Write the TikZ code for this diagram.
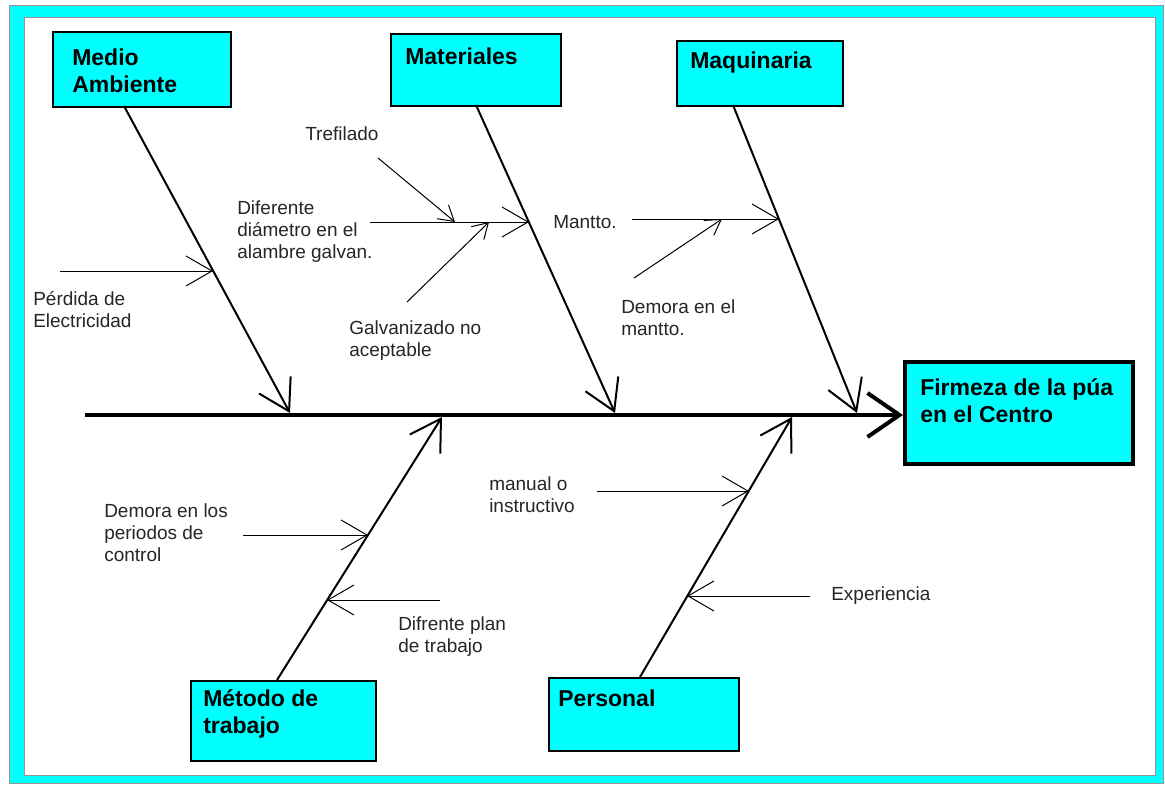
\documentclass[tikz,border=0pt]{standalone}
\usepackage{fontspec}
\setmainfont{Liberation Sans}
\usetikzlibrary{arrows.meta,calc}
\newlength\pxu \setlength\pxu{0.75pt}
\definecolor{boxcyan}{RGB}{0,255,255}
\definecolor{framegray}{RGB}{150,150,150}

\begin{document}
\begin{tikzpicture}[x=0.75pt,y=-0.75pt,
  category/.style={draw=black, line width=1.5pt, fill=boxcyan, anchor=north west, inner sep=0pt},
  effectbox/.style={category, line width=3pt},
  % labels are placed by the baseline of their last line
  boxlabel/.style={font=\fontsize{17.25}{20.25}\selectfont\bfseries, align=left, anchor=base west, inner sep=0pt},
  causelabel/.style={font=\fontsize{14.25}{16.5}\selectfont, align=left, anchor=base west, inner sep=0pt, text=black!85},
  spine/.style={line width=3pt, -{Straight Barb[length=24pt,width=33pt]}},
  bone/.style={line width=1.5pt, -{Straight Barb[length=22.5pt,width=27pt]}},
  cause/.style={line width=0.75pt, -{Straight Barb[length=19.5pt,width=22.5pt]}},
  subcause/.style={line width=0.75pt, -{Straight Barb[length=11.25pt,width=13.5pt]}},
]
% canvas
\useasboundingbox (0,0) rectangle (1165,786);
\fill[white] (0,0) rectangle (1165,786);

% cyan frame
\fill[boxcyan, even odd rule] (9,5) rectangle (1163,783) (24,17) rectangle (1155,775);
\draw[framegray, line width=0.75pt] (9,5) rectangle (1163,783);
\draw[framegray, line width=0.75pt] (24,17) rectangle (1155,775);

% category boxes
\node[category, minimum width=178\pxu, minimum height=75\pxu] (ma) at (52,31) {};
\node[category, minimum width=170\pxu, minimum height=72\pxu] (mat) at (390,33) {};
\node[category, minimum width=166\pxu, minimum height=65\pxu] (maq) at (676,40) {};
\node[category, minimum width=185\pxu, minimum height=80\pxu] (met) at (190,680) {};
\node[category, minimum width=190\pxu, minimum height=73\pxu] (per) at (548,677) {};
\node[effectbox, minimum width=228\pxu, minimum height=102\pxu] (ef) at (903,360) {};

\node[boxlabel] (maT) at (72,92) {Medio\\Ambiente};
\node[boxlabel] (matT) at (405,64) {Materiales};
\node[boxlabel] (maqT) at (690,68) {Maquinaria};
\node[boxlabel] (metT) at (203,733) {Método de\\trabajo};
\node[boxlabel] (perT) at (558,706) {Personal};
\node[boxlabel] (efT) at (920,422) {Firmeza de la púa\\en el Centro};

% spine
\coordinate (spL) at (85,415);
\draw[spine] (spL) -- (ef.west |- spL);

% bones
\coordinate (maA) at (124,106);  \coordinate (maB) at (290,413);
\coordinate (matA) at (476,105); \coordinate (matB) at (615,413);
\coordinate (maqA) at (733,105); \coordinate (maqB) at (857,413);
\coordinate (metA) at (277,680); \coordinate (metB) at (442,417);
\coordinate (perA) at (640,677); \coordinate (perB) at (792,417);
\draw[bone] (maA) -- (maB);
\draw[bone] (matA) -- (matB);
\draw[bone] (maqA) -- (maqB);
\draw[bone] (metA) -- (metB);
\draw[bone] (perA) -- (perB);

% causes: Medio Ambiente
\coordinate (c1a) at (60,271);  \coordinate (c1b) at (213,271);
\draw[cause] (c1a) -- (c1b);
\node[causelabel] (c1) at (33,327) {Pérdida de\\Electricidad};

% causes: Materiales
\coordinate (c2a) at (370,222); \coordinate (c2b) at (529,222);
\coordinate (c3a) at (378,158); \coordinate (c3b) at (455,222);
\coordinate (c4a) at (407,302); \coordinate (c4b) at (489,222);
\draw[cause] (c2a) -- (c2b);
\draw[subcause] (c3a) -- (c3b);
\draw[subcause] (c4a) -- (c4b);
\node[causelabel] (c2) at (237,258) {Diferente\\diámetro en el\\alambre galvan.};
\node[causelabel] (c3) at (305,140) {Trefilado};
\node[causelabel] (c4) at (349,356) {Galvanizado no\\aceptable};

% causes: Maquinaria
\coordinate (c5a) at (632,219); \coordinate (c5b) at (779,219);
\coordinate (c6a) at (634,278); \coordinate (c6b) at (722,219);
\draw[cause] (c5a) -- (c5b);
\draw[subcause] (c6a) -- (c6b);
\node[causelabel] (c5) at (553,228) {Mantto.};
\node[causelabel] (c6) at (621,335) {Demora en el\\mantto.};

% causes: Método de trabajo
\coordinate (c7a) at (243,535); \coordinate (c7b) at (368,535);
\coordinate (c8a) at (440,600); \coordinate (c8b) at (327,600);
\draw[cause] (c7a) -- (c7b);
\draw[cause] (c8a) -- (c8b);
\node[causelabel] (c7) at (104,561) {Demora en los\\periodos de\\control};
\node[causelabel] (c8) at (398,652) {Difrente plan\\de trabajo};

% causes: Personal
\coordinate (c9a) at (597,491); \coordinate (c9b) at (749,491);
\coordinate (c10a) at (810,596); \coordinate (c10b) at (687,596);
\draw[cause] (c9a) -- (c9b);
\draw[cause] (c10a) -- (c10b);
\node[causelabel] (c9) at (489,512) {manual o\\instructivo};
\node[causelabel] (c10) at (831,600) {Experiencia};
\end{tikzpicture}
\end{document}
